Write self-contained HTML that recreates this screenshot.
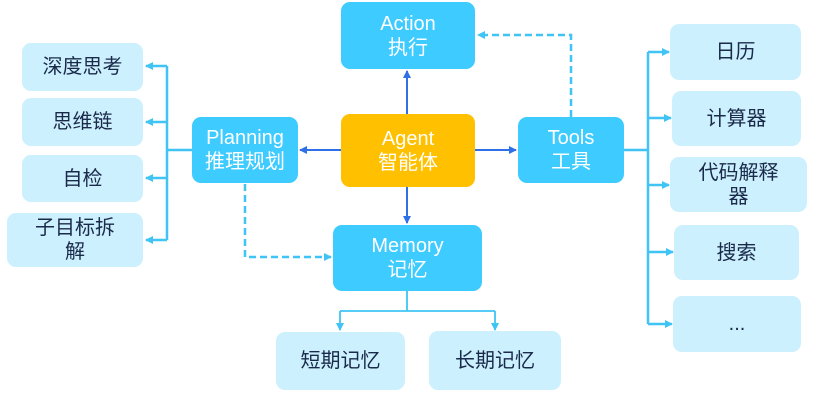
<!DOCTYPE html><html><head><meta charset="utf-8"><style>
body{margin:0;width:816px;height:400px;background:#fff;overflow:hidden;position:relative;font-family:"Liberation Sans","Noto Sans CJK SC",sans-serif}
.b{position:absolute;display:flex;align-items:center;justify-content:center;text-align:center;border-radius:9px;box-sizing:border-box;line-height:1.2}
.p{background:#3ecbff;color:#fff;font-size:20px}
.l{background:#ccf0fd;color:#1a2a4a;font-size:20px}
.a{background:#ffc000;color:#fff;font-size:20px}
svg{position:absolute;left:0;top:0}
</style></head><body>
<svg width="816" height="400">
<defs>
<marker id="c" markerWidth="8" markerHeight="8" refX="7" refY="4" orient="auto" markerUnits="userSpaceOnUse"><path d="M0,0L8,4L0,8z" fill="#3fc4f5"/></marker>
<marker id="d" markerWidth="8" markerHeight="8" refX="7" refY="4" orient="auto" markerUnits="userSpaceOnUse"><path d="M0,0L8,4L0,8z" fill="#2f6fe8"/></marker>
</defs>
<g stroke="#2f6fe8" stroke-width="2" fill="none">
<line x1="407" y1="114" x2="407" y2="71" marker-end="url(#d)"/>
<line x1="407" y1="187" x2="407" y2="223" marker-end="url(#d)"/>
<line x1="341" y1="150" x2="300" y2="150" marker-end="url(#d)"/>
<line x1="475" y1="150" x2="516" y2="150" marker-end="url(#d)"/>
</g>
<g stroke="#3fc4f5" stroke-width="2.5" fill="none">
<line x1="192" y1="150" x2="167" y2="150"/>
<line x1="167" y1="66" x2="167" y2="240"/>
<line x1="167" y1="66" x2="146" y2="66" marker-end="url(#c)"/>
<line x1="167" y1="122" x2="146" y2="122" marker-end="url(#c)"/>
<line x1="167" y1="178" x2="146" y2="178" marker-end="url(#c)"/>
<line x1="167" y1="240" x2="146" y2="240" marker-end="url(#c)"/>
<line x1="624" y1="150" x2="648" y2="150"/>
<line x1="648" y1="52" x2="648" y2="324"/>
<line x1="648" y1="52" x2="669" y2="52" marker-end="url(#c)"/>
<line x1="648" y1="118" x2="671" y2="118" marker-end="url(#c)"/>
<line x1="648" y1="185" x2="669" y2="185" marker-end="url(#c)"/>
<line x1="648" y1="252" x2="673" y2="252" marker-end="url(#c)"/>
<line x1="648" y1="324" x2="672" y2="324" marker-end="url(#c)"/>
</g>
<g stroke="#3fc4f5" stroke-width="1.8" fill="none">
<line x1="407" y1="291" x2="407" y2="311"/>
<line x1="340" y1="311" x2="495" y2="311"/>
<line x1="340" y1="311" x2="340" y2="330" marker-end="url(#c)"/>
<line x1="495" y1="311" x2="495" y2="330" marker-end="url(#c)"/>
</g>
<g stroke="#3fc4f5" stroke-width="2.5" fill="none" stroke-dasharray="7,4">
<polyline points="245,184 245,257 331,257" marker-end="url(#c)"/>
<polyline points="571,117 571,35 478,35" marker-end="url(#c)"/>
</g>
</svg>
<div class="b p" style="left:341px;top:2px;width:134px;height:67px">Action<br>执行</div>
<div class="b a" style="left:341px;top:114px;width:134px;height:73px">Agent<br>智能体</div>
<div class="b p" style="left:192px;top:117px;width:106px;height:66px">Planning<br>推理规划</div>
<div class="b p" style="left:518px;top:117px;width:106px;height:66px">Tools<br>工具</div>
<div class="b p" style="left:333px;top:225px;width:149px;height:66px">Memory<br>记忆</div>
<div class="b l" style="left:22px;top:43px;width:121px;height:48px">深度思考</div>
<div class="b l" style="left:22px;top:98px;width:121px;height:48px">思维链</div>
<div class="b l" style="left:22px;top:155px;width:121px;height:47px">自检</div>
<div class="b l" style="left:7px;top:213px;width:136px;height:54px">子目标拆<br>解</div>
<div class="b l" style="left:670px;top:24px;width:131px;height:56px">日历</div>
<div class="b l" style="left:672px;top:91px;width:129px;height:55px">计算器</div>
<div class="b l" style="left:670px;top:157px;width:137px;height:55px">代码解释<br>器</div>
<div class="b l" style="left:674px;top:225px;width:125px;height:55px">搜索</div>
<div class="b l" style="left:673px;top:296px;width:128px;height:56px">...</div>
<div class="b l" style="left:276px;top:332px;width:129px;height:58px">短期记忆</div>
<div class="b l" style="left:429px;top:331px;width:132px;height:59px">长期记忆</div>
</body></html>
